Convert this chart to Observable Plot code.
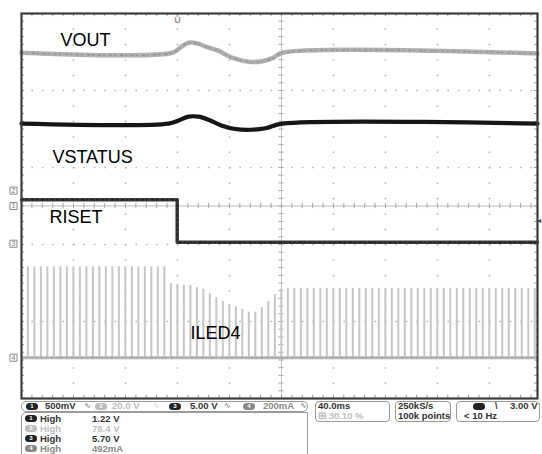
<!DOCTYPE html>
<html><head><meta charset="utf-8">
<script src="https://cdn.jsdelivr.net/npm/d3@7"></script>
<script src="https://cdn.jsdelivr.net/npm/@observablehq/plot@0.6"></script>
<style>
html,body{margin:0;padding:0;background:#fff;}
#wrap{position:relative;width:542px;height:454px;overflow:hidden;font-family:"Liberation Sans",Arial,sans-serif;}
#chart svg{display:block;}
#panel{position:absolute;left:0;top:400px;width:542px;height:54px;}
.box{position:absolute;border:1px solid #9a9a9a;box-sizing:border-box;background:#fff;}
.t{position:absolute;font-weight:bold;font-size:9.5px;line-height:10px;white-space:nowrap;color:#333;}
.ov{position:absolute;width:12px;height:7px;border-radius:4px;background:#222;color:#fff;font-size:6px;line-height:7px;text-align:center;font-weight:bold;}
.ic{position:absolute;font-size:8px;line-height:10px;color:#666;}
</style></head><body>
<div id="wrap"><div id="chart"></div><div id="panel"></div></div>
<script>
// ---- data (time in ms, 40 ms/div; vertical position in screen divisions) ----
const voutT = [0, 116.2, 122.3, 128.5, 135.4, 141.6, 150.8, 163.1, 176.2, 185.4, 193.1, 200.8, 397];
const voutV = [1.99, 1.99, 2.06, 2.12, 2.11, 2.07, 2.02, 1.92, 1.87, 1.88, 1.92, 1.99, 1.98];
const vstatT = [0, 113.1, 120.8, 128.5, 136.2, 143.9, 153.1, 164.6, 176.2, 187.7, 200.8, 397];
const vstatV = [1.07, 1.07, 1.11, 1.16, 1.16, 1.12, 1.05, 1.00, 0.99, 1.01, 1.07, 1.07];
const risetT = [0, 119.8, 119.8, 397];
const risetV = [0.08, 0.08, -0.47, -0.47];
const iledBase = -1.97;
const iledPulseT = [
  4.9, 9.9, 14.9, 19.9, 24.9, 29.9, 34.9, 39.9, 44.9, 49.9,
  54.9, 59.9, 64.9, 69.9, 74.9, 79.9, 84.9, 89.9, 94.9, 99.9,
  104.9, 109.9, 114.9, 119.9, 124.9, 129.9, 134.9, 139.9, 144.9, 149.9,
  154.9, 159.9, 164.9, 169.9, 174.9, 179.9, 184.9, 189.9, 194.9, 199.9,
  204.9, 209.9, 214.9, 219.9, 224.9, 229.9, 234.9, 239.9, 244.9, 249.9,
  254.9, 259.9, 264.9, 269.9, 274.9, 279.9, 284.9, 289.9, 294.9, 299.9,
  304.9, 309.9, 314.9, 319.9, 324.9, 329.9, 334.9, 339.9, 344.9, 349.9,
  354.9, 359.9, 364.9, 369.9, 374.9, 379.9, 384.9, 389.9, 394.9];
const iledPulseTop = [
  -0.79, -0.79, -0.79, -0.79, -0.79, -0.79, -0.79, -0.79, -0.79, -0.79,
  -0.79, -0.79, -0.79, -0.79, -0.79, -0.79, -0.79, -0.79, -0.79, -0.79,
  -0.79, -0.79, -1.01, -1.02, -1.03, -1.03, -1.06, -1.08, -1.14, -1.19,
  -1.24, -1.28, -1.31, -1.34, -1.38, -1.38, -1.32, -1.24, -1.15, -1.08,
  -1.07, -1.07, -1.07, -1.07, -1.07, -1.07, -1.07, -1.07, -1.07, -1.07,
  -1.07, -1.07, -1.07, -1.07, -1.07, -1.07, -1.07, -1.07, -1.07, -1.07,
  -1.07, -1.07, -1.07, -1.07, -1.07, -1.07, -1.07, -1.07, -1.07, -1.07,
  -1.07, -1.07, -1.07, -1.07, -1.07, -1.07, -1.07, -1.07, -1.07];
const traceNames = ["VOUT", "VSTATUS", "RISET", "ILED4"];
const channelMarks = ["2", "1", "3", "4"];
const channelMarkLevels = [0.2, 0, -0.49, -1.97];
const chScales = ["500mV", "20.0 V", "5.00 V", "200mA"];
const measNames = ["High", "High", "High", "High"];
const measValues = ["1.22 V", "78.4 V", "5.70 V", "492mA"];
const timebase = ["40.0ms", "\u229e 30.10 %"];
const acquisition = ["250kS/s", "100k points"];
const trigger = ["3.00 V", "< 10 Hz"];
const triggerTime = 120, triggerLevel = -0.19;

// ---- scaffolding ----
const T1 = 397;
const minorX = d3.range(0, T1 + 0.01, 8);
const minorY = d3.range(-25, 26).map(k => k / 10);
const rows = (a, b) => a.map((t, i) => ({t, v: b[i]}));
const vout = rows(voutT, voutV), vstat = rows(vstatT, vstatV), riset = rows(risetT, risetV);
const pulses = iledPulseT.map((t, i) => ({t, top: iledPulseTop[i]}));
const grid = "#b8b8b8";
const ff = "Liberation Sans, Arial, sans-serif";

const chart = Plot.plot({
  width: 542, height: 400,
  marginLeft: 21, marginRight: 5, marginTop: 13, marginBottom: 2,
  x: {domain: [0, T1], axis: null},
  y: {domain: [-2.5, 2.5], axis: null},
  style: {background: "white", overflow: "visible"},
  marks: [
    Plot.ruleY([-1.5, -0.5, 0.5, 1.5], {stroke: grid, strokeWidth: 1.6, strokeDasharray: "1.6 8.8"}),
    Plot.ruleX([40, 80, 120, 160, 240, 280, 320, 360], {stroke: grid, strokeWidth: 1.6, strokeDasharray: "1.6 13.8"}),
    Plot.ruleY([0], {stroke: "#bdbdbd", strokeWidth: 1}),
    Plot.ruleX([200], {stroke: "#c4c4c4", strokeWidth: 1}),
    Plot.ruleX(minorX, {x: d => d, y1: -0.035, y2: 0.035, stroke: "#aaa", strokeWidth: 1}),
    Plot.ruleY(minorY, {y: d => d, x1: 198, x2: 202, stroke: "#aaa", strokeWidth: 1}),
    Plot.ruleX(minorX, {x: d => d, y1: 2.5, y2: 2.46, stroke: "#999"}),
    Plot.ruleX(minorX, {x: d => d, y1: -2.5, y2: -2.46, stroke: "#999"}),
    Plot.ruleY(minorY, {y: d => d, x1: 0, x2: 2.3, stroke: "#999"}),
    Plot.ruleY(minorY, {y: d => d, x1: T1 - 2.3, x2: T1, stroke: "#999"}),
    // ILED4
    Plot.ruleX(pulses, {x: "t", y1: iledBase, y2: "top", stroke: "#c6c6c6", strokeWidth: 2}),
    Plot.ruleY([iledBase], {stroke: "#b4b4b4", strokeWidth: 3}),
    Plot.ruleY([iledBase], {stroke: "#999", strokeWidth: 1, strokeDasharray: "2 3 1 4"}),
    // RISET
    Plot.line(riset, {x: "t", y: "v", stroke: "#3a3a3a", strokeWidth: 3.5}),
    Plot.line(riset, {x: "t", y: "v", stroke: "#111", strokeWidth: 1, strokeDasharray: "2 3 1 4"}),
    // VSTATUS (black)
    Plot.line(vstat, {x: "t", y: "v", stroke: "#161616", strokeWidth: 4.2, curve: "catmull-rom"}),
    // VOUT
    Plot.line(vout, {x: "t", y: "v", stroke: "#b0b0b0", strokeWidth: 4.5, curve: "catmull-rom"}),
    Plot.line(vout, {x: "t", y: "v", stroke: "#8e8e8e", strokeWidth: 1.2, strokeDasharray: "2 3 1 5", curve: "catmull-rom"}),
    // labels
    Plot.text([traceNames[0]], {x: 30, y: 2.084, text: d => d, textAnchor: "start", lineAnchor: "bottom", fontSize: 18, fill: "#000", fontFamily: ff}),
    Plot.text([traceNames[1]], {x: 23.8, y: 0.552, text: d => d, textAnchor: "start", lineAnchor: "bottom", fontSize: 18, fill: "#000", fontFamily: ff}),
    Plot.text([traceNames[2]], {x: 21.5, y: -0.227, text: d => d, textAnchor: "start", lineAnchor: "bottom", fontSize: 18, fill: "#000", fontFamily: ff}),
    Plot.text([traceNames[3]], {x: 130, y: -1.721, text: d => d, textAnchor: "start", lineAnchor: "bottom", fontSize: 18, fill: "#000", fontFamily: ff}),
    // channel ground markers
    Plot.dot(channelMarks, {x: 0, y: (d, i) => channelMarkLevels[i], dx: -8, symbol: "square", r: 4, stroke: "#8a8a8a", fill: "white", strokeWidth: 1}),
    Plot.text(channelMarks, {x: 0, y: (d, i) => channelMarkLevels[i], dx: -8, text: d => d, fontSize: 7, fill: "#777", fontFamily: ff}),
    // trigger markers
    Plot.ruleX([triggerTime], {y1: 2.5, y2: 2.45, stroke: "#999", strokeWidth: 1.5}),
    Plot.text(["U"], {x: triggerTime, y: 2.41, text: d => d, fontSize: 9, fill: "#9a9a9a", fontWeight: "bold", fontFamily: ff}),
    Plot.text(["\u25c2"], {x: T1, y: triggerLevel, dx: 1, text: d => d, fontSize: 8, fill: "#444"}),
    Plot.frame({stroke: "#3c3c3c", strokeWidth: 2.2})
  ]
});
document.getElementById("chart").append(chart);

// ---- bottom status panel ----
const panel = document.getElementById("panel");
function el(cls, left, top, html, extra) {
  const d = document.createElement("div");
  d.className = cls; d.style.left = left + "px"; d.style.top = top + "px";
  d.textContent = html;
  if (extra) Object.assign(d.style, extra);
  panel.append(d); return d;
}
const chBg = ["#222", "#bbb", "#222", "#888"];
const chText = ["#333", "#bdbdbd", "#333", "#888"];
el("box", 21, 1, "", {width: "287px", height: "11px", borderRadius: "5px"});
el("box", 21, 12, "", {width: "287px", height: "60px", borderTopLeftRadius: "5px"});
const ovX = [26, 95, 169, 243], scX = [45, 112, 190, 263], icX = [84, 153, 224, 300];
chScales.forEach((s, i) => {
  el("ov", ovX[i], 2.5, String(i + 1), {background: chBg[i]});
  el("t", scX[i], 1, s, {color: chText[i]});
  el("ic", icX[i], 1, "\u223f", {color: i === 1 ? "#ccc" : "#666"});
});
const rowTop = [13.5, 23.5, 33.5, 43.5];
const mText = ["#333", "#bdbdbd", "#333", "#8a8a8a"];
measNames.forEach((n, i) => {
  el("ov", 25, rowTop[i] + 1.5, String(i + 1), {background: chBg[i]});
  el("t", 40, rowTop[i], n, {color: mText[i]});
  el("t", 92, rowTop[i], measValues[i], {color: mText[i]});
});
el("box", 315, 1, "", {width: "75px", height: "21px", borderRadius: "4px"});
el("t", 318, 1, timebase[0]);
el("t", 318, 11, timebase[1], {color: "#c0c0c0"});
el("box", 395, 1, "", {width: "56px", height: "21px", borderRadius: "4px"});
el("t", 398, 1, acquisition[0]);
el("t", 398, 11, acquisition[1]);
el("box", 456, 1, "", {width: "84px", height: "21px", borderRadius: "4px"});
el("ov", 473, 2.5, "", {background: "#222"});
el("t", 495, 1, "\\", {fontSize: "9px"});
el("t", 510, 1, trigger[0]);
el("t", 464, 11, trigger[1]);
</script>
</body></html>
